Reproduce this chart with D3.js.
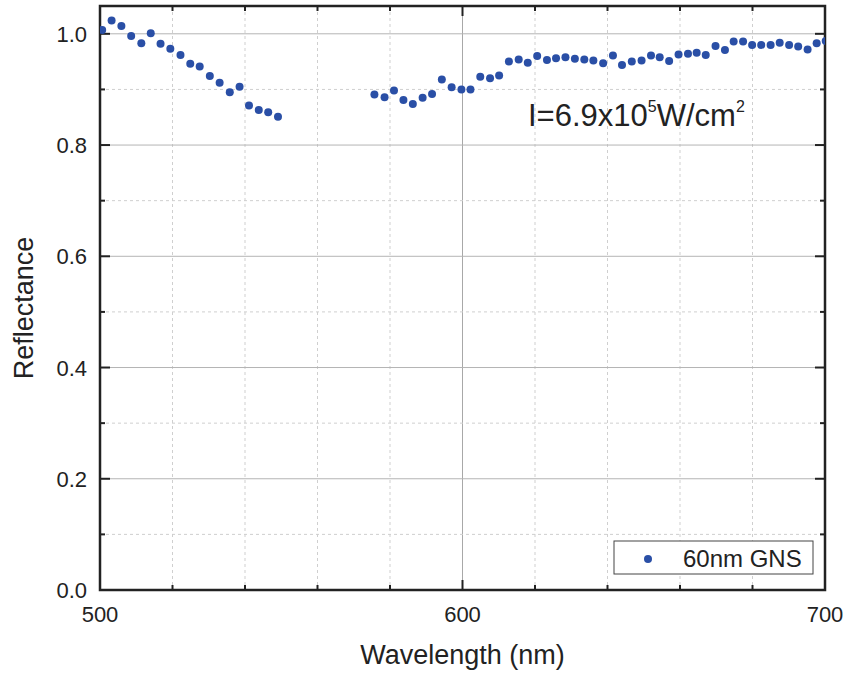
<!DOCTYPE html>
<html>
<head>
<meta charset="utf-8">
<script src="https://cdn.jsdelivr.net/npm/d3@7"></script>
<style>
  body { margin: 0; background: #fff; }
  svg text { font-family: "Liberation Sans", Arial, sans-serif; fill: #222; }
</style>
</head>
<body>
<svg id="chart" width="846" height="674"></svg>
<script>
// wavelength (nm) and reflectance
var wavelength = [500.6, 503.2, 505.9, 508.6, 511.4, 514.0, 516.7, 519.4, 522.2, 524.9,
  527.5, 530.3, 533.0, 535.8, 538.5, 541.1, 543.8, 546.4, 549.1,
  575.7, 578.5, 581.1, 583.7, 586.3, 589.0, 591.6, 594.3, 597.0, 599.7,
  602.2, 604.9, 607.6, 610.1, 612.8, 615.5, 618.0, 620.6, 623.3, 625.8,
  628.4, 631.0, 633.6, 636.1, 638.8, 641.5, 644.0, 646.7, 649.4, 652.0,
  654.4, 657.0, 659.6, 662.2, 664.6, 667.1, 669.8, 672.4, 674.8, 677.4,
  679.9, 682.4, 685.0, 687.5, 690.1, 692.6, 695.2, 697.7, 700.2];
var reflectance = [1.007, 1.024, 1.014, 0.996, 0.983, 1.001, 0.982, 0.973, 0.962, 0.946,
  0.941, 0.924, 0.912, 0.895, 0.905, 0.871, 0.863, 0.859, 0.851,
  0.891, 0.886, 0.898, 0.881, 0.874, 0.885, 0.892, 0.918, 0.904, 0.900,
  0.900, 0.923, 0.920, 0.925, 0.950, 0.954, 0.948, 0.960, 0.953, 0.956,
  0.958, 0.955, 0.954, 0.952, 0.947, 0.961, 0.944, 0.950, 0.952, 0.961,
  0.958, 0.951, 0.963, 0.964, 0.966, 0.962, 0.978, 0.971, 0.986, 0.986,
  0.980, 0.980, 0.980, 0.984, 0.980, 0.977, 0.972, 0.983, 0.987];
var xTicks = [500, 600, 700];
var yTicks = [0.0, 0.2, 0.4, 0.6, 0.8, 1.0];
var seriesName = "60nm GNS";

var margin = {top: 6, right: 21, bottom: 84, left: 100},
    width = 846 - margin.left - margin.right,
    height = 674 - margin.top - margin.bottom;

var x = d3.scaleLinear().domain([500, 700]).range([0, width]);
var y = d3.scaleLinear().domain([0, 1.05]).range([height, 0]);

var svg = d3.select("#chart");
var g = svg.append("g")
    .attr("transform", "translate(" + margin.left + "," + margin.top + ")");

g.append("clipPath").attr("id", "plotclip")
  .append("rect").attr("width", width).attr("height", height);

var xMinor = d3.range(520, 700, 20);
var yMinor = d3.range(1, 11).map(function(i){ return i / 10; });
var xMajorAll = d3.range(500, 701, 20);

// grid
g.selectAll("line.xgrid").data(xMinor).enter().append("line")
    .attr("class", "xgrid")
    .attr("x1", function(d){ return x(d); }).attr("x2", function(d){ return x(d); })
    .attr("y1", 0).attr("y2", height)
    .attr("stroke", function(d){ return d == 600 ? "#a8a8a8" : "#cfcfcf"; })
    .attr("stroke-dasharray", function(d){ return d == 600 ? null : "3,3"; });

g.selectAll("line.ygrid").data(yMinor).enter().append("line")
    .attr("class", "ygrid")
    .attr("y1", function(d){ return y(d); }).attr("y2", function(d){ return y(d); })
    .attr("x1", 0).attr("x2", width)
    .attr("stroke", function(d){ return Math.round(d * 10) % 2 == 0 ? "#b4b4b4" : "#cfcfcf"; })
    .attr("stroke-dasharray", function(d){ return Math.round(d * 10) % 2 == 0 ? null : "3,3"; });

// ticks, all pointing inward
g.selectAll("line.xtick").data(xMajorAll).enter().append("line")
    .attr("x1", function(d){ return x(d); }).attr("x2", function(d){ return x(d); })
    .attr("y1", height).attr("y2", function(d){ return height - (d % 100 == 0 ? 10 : 5); })
    .attr("stroke", "#222").attr("stroke-width", 2);
g.selectAll("line.xtickt").data(xMajorAll).enter().append("line")
    .attr("x1", function(d){ return x(d); }).attr("x2", function(d){ return x(d); })
    .attr("y1", 0).attr("y2", function(d){ return d % 100 == 0 ? 10 : 5; })
    .attr("stroke", "#222").attr("stroke-width", 2);
g.selectAll("line.ytick").data(yMinor).enter().append("line")
    .attr("y1", function(d){ return y(d); }).attr("y2", function(d){ return y(d); })
    .attr("x1", 0).attr("x2", function(d){ return Math.round(d * 10) % 2 == 0 ? 10 : 5; })
    .attr("stroke", "#222").attr("stroke-width", 2);
g.selectAll("line.ytickr").data(yMinor).enter().append("line")
    .attr("y1", function(d){ return y(d); }).attr("y2", function(d){ return y(d); })
    .attr("x1", width).attr("x2", function(d){ return width - (Math.round(d * 10) % 2 == 0 ? 10 : 5); })
    .attr("stroke", "#222").attr("stroke-width", 2);

// tick labels
g.selectAll("text.xlab").data(xTicks).enter().append("text")
    .attr("x", function(d){ return x(d); }).attr("y", height + 32)
    .attr("text-anchor", "middle").style("font-size", "22px")
    .text(function(d){ return d; });
g.selectAll("text.ylab").data(yTicks).enter().append("text")
    .attr("x", -13).attr("y", function(d){ return y(d) + 8; })
    .attr("text-anchor", "end").style("font-size", "22px")
    .text(function(d){ return d.toFixed(1); });

// frame
g.append("rect").attr("width", width).attr("height", height)
    .attr("fill", "none").attr("stroke", "#222").attr("stroke-width", 2.5);

// points
var pts = wavelength.map(function(w, i){ return {w: w, r: reflectance[i]}; });
g.append("g").attr("clip-path", "url(#plotclip)")
  .selectAll("circle").data(pts).enter().append("circle")
    .attr("cx", function(d){ return x(d.w); })
    .attr("cy", function(d){ return y(d.r); })
    .attr("r", 4)
    .attr("fill", "#2a4fa6");

// axis titles
svg.append("text")
    .attr("x", margin.left + width / 2).attr("y", 664)
    .attr("text-anchor", "middle").style("font-size", "27px")
    .text("Wavelength (nm)");
svg.append("text")
    .attr("transform", "translate(33," + (margin.top + height / 2 + 10) + ") rotate(-90)")
    .attr("text-anchor", "middle").style("font-size", "27px")
    .text("Reflectance");

// annotation
var ann = svg.append("text").attr("x", 528).attr("y", 126).style("font-size", "31px");
ann.append("tspan").text("I=6.9x10");
ann.append("tspan").attr("dy", -14).style("font-size", "16px").text("5");
ann.append("tspan").attr("dy", 14).text("W/cm");
ann.append("tspan").attr("dy", -14).style("font-size", "16px").text("2");

// legend
var lg = svg.append("g").attr("transform", "translate(614,541)");
lg.append("rect").attr("width", 199).attr("height", 33)
    .attr("fill", "#fff").attr("stroke", "#444").attr("stroke-width", 1);
lg.append("circle").attr("cx", 34).attr("cy", 18).attr("r", 4).attr("fill", "#2a4fa6");
lg.append("text").attr("x", 69).attr("y", 26).style("font-size", "24px").text(seriesName);
</script>
</body>
</html>
